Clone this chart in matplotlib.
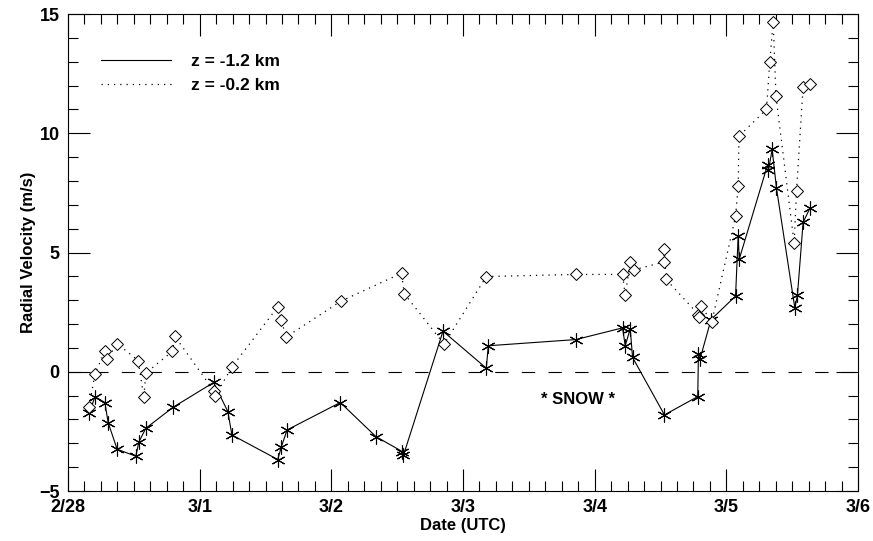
import matplotlib
matplotlib.use("Agg")
import matplotlib.pyplot as plt
from matplotlib.ticker import MultipleLocator
from matplotlib.markers import MarkerStyle

plt.rcParams['font.family'] = ['Liberation Sans', 'DejaVu Sans']

# time in days after 2/28 00 UTC
t_low = [0.161, 0.205, 0.280, 0.305, 0.373, 0.515, 0.538, 0.591, 0.798, 1.106,
         1.214, 1.245, 1.593, 1.619, 1.664, 2.068, 2.339, 2.540, 2.548, 2.848,
         3.177, 3.192, 3.858, 4.212, 4.232, 4.270, 4.288, 4.530, 4.783, 4.788,
         4.800, 4.884, 5.070, 5.090, 5.098, 5.313, 5.320, 5.348, 5.381, 5.520,
         5.540, 5.583, 5.634]
v_low = [-1.74, -1.04, -1.29, -2.13, -3.25, -3.54, -2.95, -2.37, -1.49, -0.45,
         -1.67, -2.65, -3.68, -3.17, -2.44, -1.29, -2.72, -3.35, -3.50, 1.70,
         0.15, 1.09, 1.35, 1.84, 1.09, 1.80, 0.60, -1.81, -1.04, 0.76,
         0.53, 2.19, 3.17, 5.70, 4.72, 8.67, 8.45, 9.32, 7.69, 2.68,
         3.20, 6.26, 6.85]

t_high = [0.161, 0.205, 0.280, 0.298, 0.373, 0.533, 0.576, 0.591, 0.793, 0.811,
          1.106, 1.119, 1.245, 1.593, 1.619, 1.657, 2.073, 2.533, 2.553, 2.856,
          3.177, 3.858, 4.212, 4.232, 4.270, 4.295, 4.523, 4.528, 4.543, 4.788,
          4.795, 4.808, 4.890, 5.070, 5.090, 5.096, 5.305, 5.330, 5.356, 5.377,
          5.515, 5.533, 5.583, 5.634]
v_high = [-1.46, -0.08, 0.86, 0.53, 1.18, 0.47, -1.07, -0.06, 0.86, 1.49,
          -0.79, -1.01, 0.20, 2.72, 2.16, 1.46, 2.96, 4.13, 3.28, 1.16,
          3.99, 4.08, 4.08, 3.20, 4.60, 4.27, 4.60, 5.14, 3.87, 2.40,
          2.30, 2.75, 2.10, 6.51, 7.78, 9.88, 11.00, 13.00, 14.68, 11.55,
          5.39, 7.59, 11.94, 12.08]

date_labels = ['2/28', '3/1', '3/2', '3/3', '3/4', '3/5', '3/6']
series_labels = ['z = -1.2 km', 'z = -0.2 km']

fig = plt.figure(figsize=(8.73, 5.41), dpi=100)
ax = fig.add_axes([68/873, 1-491/541, (858-68)/873, (491-14)/541])

star = MarkerStyle((6, 2, 0))
ax.plot(t_low, v_low, color='black', lw=0.8, marker=star, ms=10,
        markeredgewidth=0.8, label=series_labels[0])
ax.plot(t_high, v_high, color='black', lw=0.9, linestyle=(0, (1, 4)),
        marker='D', ms=6, mfc='white', mec='black', markeredgewidth=0.7,
        label=series_labels[1])

ax.axhline(0, color='black', lw=0.8, linestyle=(0, (12, 12)), zorder=0)

ax.set_xlim(0, 6)
ax.set_ylim(-5, 15)
ax.set_xticks(range(7))
ax.set_xticklabels(date_labels)
ax.xaxis.set_minor_locator(MultipleLocator(0.125))
ax.yaxis.set_major_locator(MultipleLocator(5))
ax.yaxis.set_minor_locator(MultipleLocator(1))
ax.tick_params(which='both', direction='in', top=True, right=True, width=0.8)
ax.tick_params(which='major', length=16, labelsize=13, pad=6)
ax.tick_params(which='minor', length=7)
for lab in ax.get_xticklabels() + ax.get_yticklabels():
    lab.set_fontweight('bold')
for s in ax.spines.values():
    s.set_linewidth(0.8)

ax.set_xlabel('Date (UTC)', fontsize=12, fontweight='bold', labelpad=1)
ax.set_ylabel('Radial Velocity (m/s)', fontsize=12, fontweight='bold', labelpad=2)

ax.text(3.87, -1.18, '* SNOW *', fontsize=12, fontweight='bold',
        ha='center', va='center')

leg = ax.legend(loc='upper left', bbox_to_anchor=(0.042, 0.917), frameon=False,
                borderaxespad=0, borderpad=0,
                handlelength=4.0, handletextpad=1.2, labelspacing=0.5,
                prop={'size': 12.5, 'weight': 'bold'})
for h in leg.legend_handles:
    h.set_marker('')

fig.savefig('out.png', dpi=100)
